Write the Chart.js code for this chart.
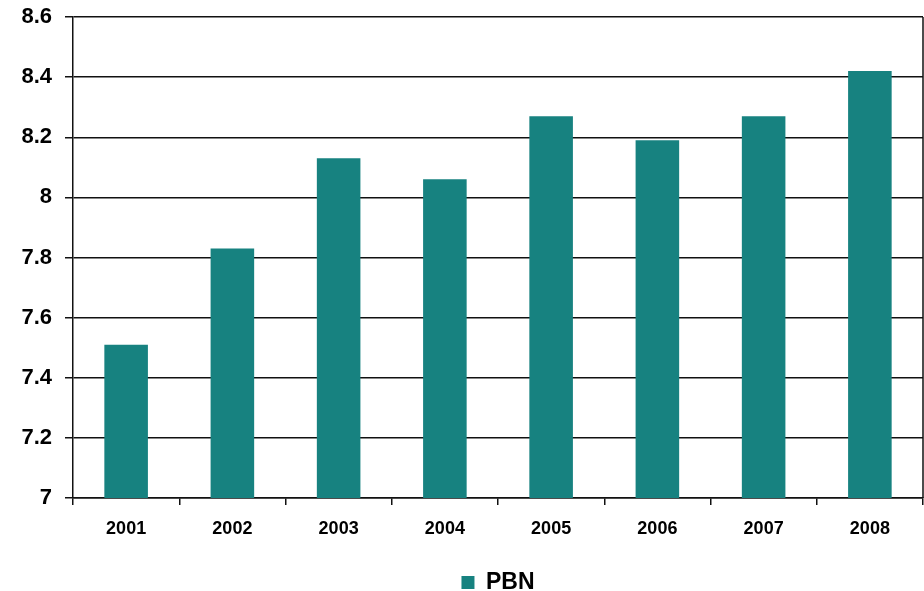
<!DOCTYPE html>
<html>
<head>
<meta charset="utf-8">
<script src="https://cdn.jsdelivr.net/npm/chart.js@4/dist/chart.umd.min.js"></script>
<style>
    html, body { margin: 0; padding: 0; background: #fff; }
    #wrap { width: 924px; height: 591px; }
</style>
</head>
<body>
<div id="wrap"><canvas id="chart" width="924" height="591"></canvas></div>
<script>
// Data
const years = ['2001', '2002', '2003', '2004', '2005', '2006', '2007', '2008'];
const pbn = [7.51, 7.83, 8.13, 8.06, 8.27, 8.19, 8.27, 8.42];
const seriesName = 'PBN';
const yMin = 7;
const yMax = 8.6;
const yStep = 0.2;

const barColor = '#178280';
const fontFamily = '"Liberation Sans", Arial, sans-serif';

// Right edge of the plot area
const frameRight = {
    id: 'frameRight',
    afterDraw(chart) {
        const { ctx, chartArea } = chart;
        ctx.save();
        ctx.strokeStyle = '#111';
        ctx.lineWidth = 1.5;
        ctx.beginPath();
        ctx.moveTo(chartArea.right, chartArea.top);
        ctx.lineTo(chartArea.right, chartArea.bottom);
        ctx.stroke();
        ctx.restore();
    }
};

new Chart(document.getElementById('chart'), {
    type: 'bar',
    data: {
        labels: years,
        datasets: [{
            label: seriesName,
            data: pbn,
            backgroundColor: barColor,
            borderWidth: 0,
            categoryPercentage: 1,
            barPercentage: 0.41
        }]
    },
    options: {
        responsive: false,
        animation: false,
        layout: { padding: { top: 17, right: 1, left: 0, bottom: -13 } },
        scales: {
            x: {
                afterFit(axis) {
                    axis.height = 73;
                    axis.paddingLeft = 0;
                    axis.paddingRight = 0;
                },
                grid: {
                    display: true,
                    drawOnChartArea: false,
                    color: '#111',
                    lineWidth: 1.5,
                    tickLength: 7
                },
                border: { color: '#111', width: 1.5 },
                ticks: {
                    color: '#000',
                    font: { family: fontFamily, size: 18, weight: 'bold' },
                    padding: 13
                }
            },
            y: {
                min: yMin,
                max: yMax,
                afterFit(axis) {
                    axis.width = 73;
                    axis.paddingTop = 0;
                    axis.paddingBottom = 0;
                },
                grid: {
                    color: '#111',
                    lineWidth: 1.5,
                    tickLength: 8
                },
                border: { color: '#111', width: 1.5 },
                ticks: {
                    stepSize: yStep,
                    color: '#000',
                    padding: 13,
                    font: { family: fontFamily, size: 22, weight: 'bold' },
                    callback: v => String(Number(v.toFixed(1)))
                }
            }
        },
        plugins: {
            legend: {
                position: 'bottom',
                fullSize: false,
                labels: {
                    color: '#000',
                    boxWidth: 13,
                    boxHeight: 13,
                    padding: 0,
                    font: { family: fontFamily, size: 23, weight: 'bold' }
                }
            },
            tooltip: { enabled: false }
        }
    },
    plugins: [frameRight]
});
</script>
</body>
</html>
